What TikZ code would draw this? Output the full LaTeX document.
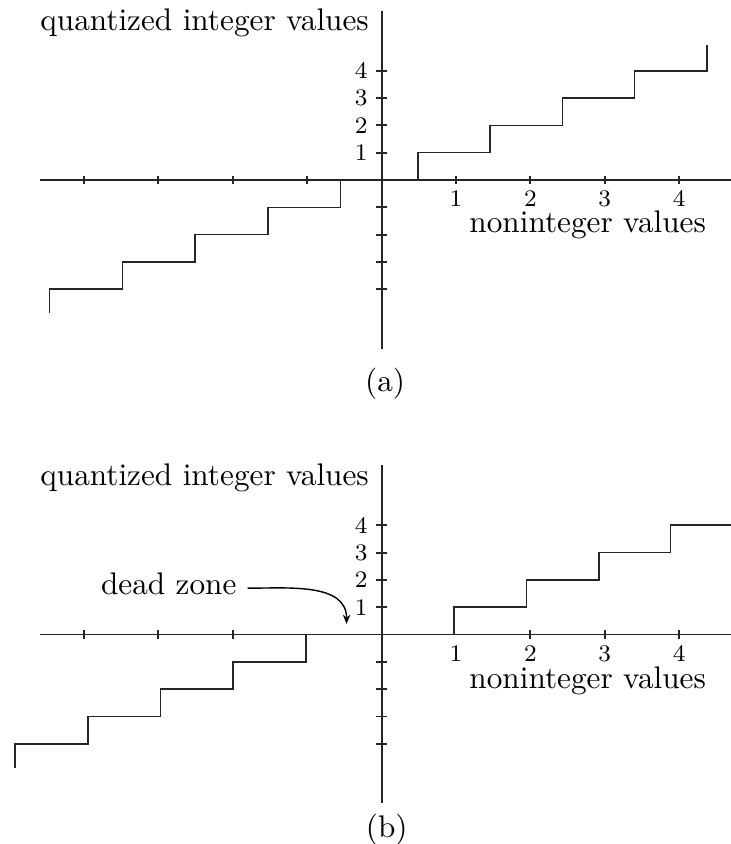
\documentclass[tikz,border=0pt]{standalone}
\usepackage{tikz}
\usetikzlibrary{calc,arrows.meta,positioning}
\tikzset{
    axis/.style={draw,line width=0.6pt,black!85},
    stair/.style={draw,line width=0.5pt,black!85},
    numlbl/.style={font=\fontsize{7.6}{9}\selectfont,inner sep=1pt},
    axlbl/.style={inner sep=0pt},
    flecha/.style={draw,line width=0.45pt,-{Stealth[length=3pt,width=2.4pt]}},
}

\begin{document}
\begin{tikzpicture}[x=23.81pt,y=8.74pt]
    \useasboundingbox (0pt,0pt) rectangle (233.6pt,-270.08pt);
    % (a) plain quantizer
    \begin{scope}[shift={(122.1pt,-57.6pt)}]
        \path [axis] (-4.59,0) -- (4.7,0);
        \path [axis] (0,-6.17) -- (0,6.19);
        \foreach \k in {1,...,4} {
            \path [axis] (\k,0) +(0,-1.3pt) -- +(0,1.3pt);
            \path [axis] (-\k,0) +(0,-1.3pt) -- +(0,1.3pt);
            \path [axis] (0,\k) +(-1.76pt,0) -- +(1.76pt,0);
            \path [axis] (0,-\k) +(-1.76pt,0) -- +(1.76pt,0);
            \node [numlbl,below=2.1pt] at (\k,0) {\k};
            \node [numlbl,left=3.3pt] at (0,\k) {\k};
        }
        \path [stair] (0.49,0) |- (1.46,1) |- (2.43,2) |- (3.40,3) |- (4.37,4) -- (4.37,4.94);
        \path [stair] (-0.55,0) |- (-1.53,-1) |- (-2.51,-2) |- (-3.48,-3) |- (-4.46,-4) -- (-4.46,-4.86);
        \node [axlbl,left=3.9pt] (qa) at (0,5.75) {quantized integer values};
        \node [axlbl] (nia) at (2.77,-1.66) {noninteger values};
        \node (capa) at (0.047,-7.45) {(a)};
    \end{scope}
    % (b) quantizer with dead zone
    \begin{scope}[shift={(122.1pt,-203.04pt)}]
        \path [axis] (-4.59,0) -- (4.7,0);
        \path [axis] (0,-6.18) -- (0,6.21);
        \foreach \k in {2,3,4} {
            \path [axis] (\k,0) +(0,-1.3pt) -- +(0,1.3pt);
            \path [axis] (-\k,0) +(0,-1.3pt) -- +(0,1.3pt);
        }
        \foreach \k in {1,...,4} {
            \path [axis] (0,\k) +(-1.76pt,0) -- +(1.76pt,0);
            \path [axis] (0,-\k) +(-1.76pt,0) -- +(1.76pt,0);
            \node [numlbl,below=2.4pt] at (\k,0) {\k};
            \node [numlbl,left=3.3pt] at (0,\k) {\k};
        }
        \path [stair] (0.976,0) |- (1.949,1) |- (2.921,2) |- (3.884,3) |- (4.7,4);
        \path [stair] (-1.017,0) |- (-1.995,-1) |- (-2.970,-2) |- (-3.948,-3) |- (-4.925,-4) -- (-4.925,-4.88);
        \node [axlbl,left=3.9pt] (qb) at (0,5.75) {quantized integer values};
        \node [axlbl] (nib) at (2.77,-1.68) {noninteger values};
        \node (dz) at (-2.86,1.84) {dead zone};
        \coordinate (dzend) at (-0.47,0.385);
        \path [flecha] (dz.mid east) to[out=0,in=90] (dzend);
        \node (capb) at (0.07,-7.16) {(b)};
    \end{scope}
\end{tikzpicture}
\end{document}
